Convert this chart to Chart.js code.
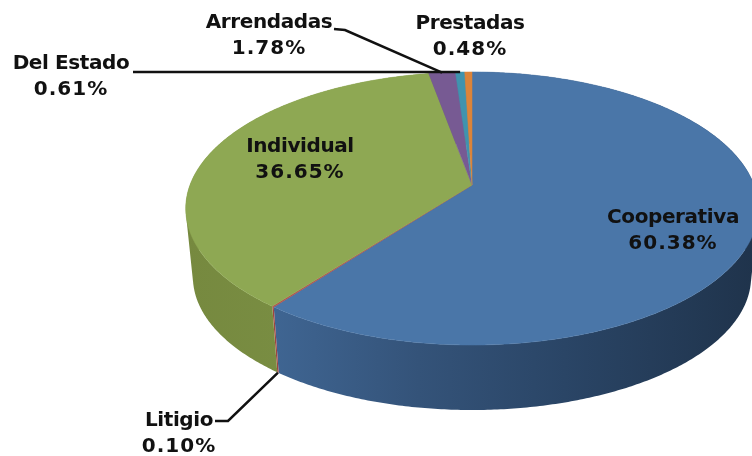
<!DOCTYPE html>
<html>
<head>
<meta charset="utf-8">
<style>
    html, body { margin: 0; padding: 0; background: #fff; }
    /* the reference is a slightly soft screenshot */
    canvas { display: block; filter: blur(0.4px); }
</style>
<script src="https://cdn.jsdelivr.net/npm/chart.js@4/dist/chart.umd.min.js"></script>
</head>
<body>
<canvas id="ChartTenencia" width="752" height="456"></canvas>
<script>
// Data, in drawing order (clockwise from the top)
const categories = ['Cooperativa', 'Litigio', 'Individual', 'Arrendadas', 'Del Estado', 'Prestadas'];
const shares = [60.38, 0.10, 36.65, 1.78, 0.61, 0.48];

// Slice colours
const topColors = ['#4a76a8', '#b5504b', '#8ea853', '#775a93', '#4093ae', '#dc843a'];
const wallStops = [
    [[0, '#3f6592'], [0.3, '#345379'], [0.6, '#2a4566'], [1, '#1f334b']],
    [[0, '#a04440'], [1, '#a04440']],
    [[0, '#76893f'], [1, '#7d9347']],
    [[0, '#5d4674'], [1, '#5d4674']],
    [[0, '#32758b'], [1, '#32758b']],
    [[0, '#b06a2e'], [1, '#b06a2e']]
];

// Where each label goes; "from" and "elbow" are only set on labels with a leader line
const labelLayout = {
    Cooperativa: { x: 673, y: 218 },
    Litigio: { x: 179, y: 421, from: [215, 421], elbow: [228, 421], wall: true },
    Individual: { x: 300, y: 147 },
    Arrendadas: { x: 269, y: 23, from: [334, 29], elbow: [345, 30] },
    'Del Estado': { x: 71, y: 64, from: [133, 72], elbow: [140, 72] },
    Prestadas: { x: 470, y: 24 }
};

// Pie seen in perspective: the apex is not the centre of the ellipse
const view = { cx: 472, cy: 185, rx: 282, ry: 132.5, persp: 0.172 };
const base = { cy: 254, scale: 0.975 };

function projectTop(a) {
    const s = 1 / (1 - view.persp * Math.sin(a));
    return [view.cx + view.rx * Math.cos(a) * s, view.cy + view.ry * Math.sin(a) * s];
}

function projectBase(a) {
    const s = 1 / (1 - view.persp * Math.sin(a));
    return [
        view.cx + view.rx * Math.cos(a) * s * base.scale,
        base.cy + view.ry * Math.sin(a) * s * base.scale
    ];
}

function arcPoints(project, start, end) {
    const points = [];
    const steps = Math.max(2, Math.ceil((end - start) / 0.01));
    for (let i = 0; i <= steps; i++) {
        points.push(project(start + (end - start) * i / steps));
    }
    return points;
}

function addPolygon(ctx, points) {
    points.forEach((p, i) => (i ? ctx.lineTo(p[0], p[1]) : ctx.moveTo(p[0], p[1])));
    ctx.closePath();
}

function signedArea(points) {
    return points.reduce((sum, p, i) => {
        const q = points[(i + 1) % points.length];
        return sum + p[0] * q[1] - q[0] * p[1];
    }, 0);
}

const perspectivePie = {
    id: 'perspectivePie',
    // Replace the flat arcs: angles still come from the library's own elements
    beforeDatasetDraw(chart) {
        const ctx = chart.ctx;
        const arcs = chart.getDatasetMeta(0).data;

        ctx.save();
        arcs.forEach((arc, i) => {
            const top = arcPoints(projectTop, arc.startAngle, arc.endAngle);
            const bottom = arcPoints(projectBase, arc.startAngle, arc.endAngle);
            const xs = top.concat(bottom).map((p) => p[0]);
            const gradient = ctx.createLinearGradient(Math.min(...xs), 0, Math.max(...xs), 0);
            wallStops[i].forEach((s) => gradient.addColorStop(s[0], s[1]));

            // All quads in one path with one winding: no seams, straight side edges
            ctx.beginPath();
            for (let k = 0; k < top.length - 1; k++) {
                const quad = [top[k], top[k + 1], bottom[k + 1], bottom[k]];
                addPolygon(ctx, signedArea(quad) < 0 ? quad.reverse() : quad);
            }
            ctx.fillStyle = gradient;
            ctx.fill();
        });
        arcs.forEach((arc, i) => {
            const top = arcPoints(projectTop, arc.startAngle, arc.endAngle);
            ctx.beginPath();
            addPolygon(ctx, [[view.cx, view.cy]].concat(top));
            ctx.fillStyle = topColors[i];
            ctx.strokeStyle = topColors[i];
            ctx.lineWidth = 0.5;
            ctx.fill();
            ctx.stroke();
        });
        ctx.restore();
        return false;
    },
    afterDatasetsDraw(chart) {
        const ctx = chart.ctx;
        const arcs = chart.getDatasetMeta(0).data;

        ctx.save();
        ctx.textAlign = 'center';
        ctx.textBaseline = 'middle';
        ctx.font = 'bold 20px "DejaVu Sans"';
        ctx.fillStyle = '#111';
        ctx.strokeStyle = '#111';
        ctx.lineWidth = 2.5;

        categories.forEach((name, i) => {
            const l = labelLayout[name];
            ctx.letterSpacing = '-0.4px';
            ctx.fillText(name, l.x, l.y);
            ctx.letterSpacing = '1px';
            ctx.fillText(shares[i].toFixed(2) + '%', l.x, l.y + 26);

            if (l.from) {
                const mid = (arcs[i].startAngle + arcs[i].endAngle) / 2;
                const end = l.wall ? projectBase(mid) : projectTop(mid);
                ctx.beginPath();
                ctx.moveTo(l.from[0], l.from[1]);
                ctx.lineTo(l.elbow[0], l.elbow[1]);
                ctx.lineTo(end[0], end[1]);
                ctx.stroke();
            }
        });
        ctx.restore();
    }
};

new Chart(document.getElementById('ChartTenencia'), {
    type: 'pie',
    data: {
        labels: categories,
        datasets: [
            {
                data: shares,
                backgroundColor: topColors,
                borderWidth: 0
            }
        ]
    },
    options: {
        responsive: false,
        animation: false,
        plugins: {
            legend: { display: false },
            tooltip: { enabled: false }
        }
    },
    plugins: [perspectivePie]
});
</script>
</body>
</html>
